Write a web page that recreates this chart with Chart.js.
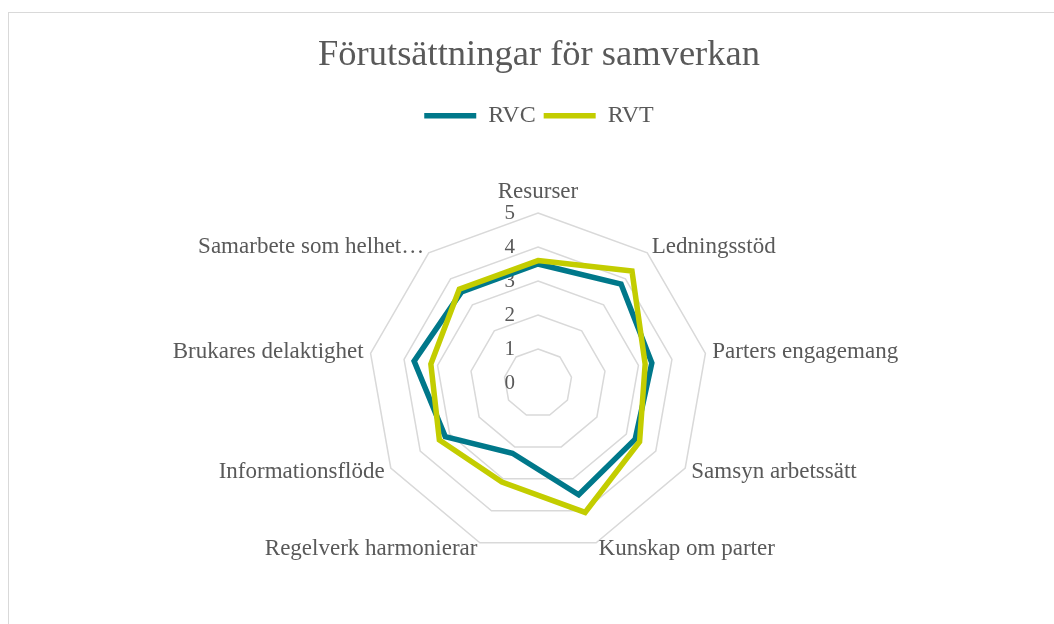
<!DOCTYPE html>
<html>
<head>
<meta charset="utf-8">
<script src="https://cdn.jsdelivr.net/npm/chart.js@4"></script>
<style>
  html, body { margin: 0; padding: 0; background: #fff; overflow: hidden; }
  #wrap { position: relative; width: 1054px; height: 624px; }
  #frame { position: absolute; left: 8px; top: 12px; width: 1100px; height: 700px; border: 1.5px solid #d9d9d9; box-sizing: border-box; }
  canvas { position: absolute; left: 0; top: 0; }
</style>
</head>
<body>
<div id="wrap">
  <div id="frame"></div>
  <canvas id="chart" width="1054" height="624"></canvas>
</div>
<script>
// ── DATA ─────────────────────────────────────────────────────────────────────
const categories = [
  'Resurser', 'Ledningsstöd', 'Parters engagemang', 'Samsyn arbetssätt',
  'Kunskap om parter', 'Regelverk harmonierar', 'Informationsflöde',
  'Brukares delaktighet', 'Samarbete som helhet…'
];
const rvc = [3.5, 3.8, 3.4, 3.3, 3.5, 2.2, 3.15, 3.7, 3.5];
const rvt = [3.6, 4.3, 3.2, 3.45, 4.05, 3.1, 3.35, 3.2, 3.6];
const tickValues = [0, 1, 2, 3, 4, 5];

// ── STYLE ────────────────────────────────────────────────────────────────────
const TEXT   = '#595959';
const GRID   = '#d9d9d9';
const TEAL   = '#00788a';
const LIME   = '#c3cd00';
const FONT   = "'Liberation Serif', 'Times New Roman', serif";
const CX = 538, CY = 383, RADIUS = 170;

// tick numbers left of the vertical axis, point labels centred on the vertex line
const radarText = {
  id: 'radarText',
  beforeDatasetsDraw(chart) {
    const s = chart.scales.r;
    const ctx = chart.ctx;
    ctx.save();
    ctx.fillStyle = TEXT;
    ctx.textBaseline = 'middle';

    ctx.font = '21px ' + FONT;
    ctx.textAlign = 'right';
    tickValues.forEach(v => {
      ctx.fillText(String(v), s.xCenter - 23, s.yCenter - s.getDistanceFromCenterForValue(v));
    });

    ctx.font = '23px ' + FONT;
    categories.forEach((lbl, i) => {
      const p = s.getPointPosition(i, s.drawingArea + 7);
      const deg = Math.round(s.getIndexAngle(i) * 180 / Math.PI) % 360;
      let y = p.y;
      if (deg === 0) { ctx.textAlign = 'center'; y -= 14; }
      else if (deg === 180) { ctx.textAlign = 'center'; y += 14; }
      else ctx.textAlign = deg < 180 ? 'left' : 'right';
      ctx.fillText(lbl, p.x, y);
    });
    ctx.restore();
  }
};

new Chart(document.getElementById('chart').getContext('2d'), {
  type: 'radar',
  data: {
    labels: categories,
    datasets: [
      { label: 'RVC', data: rvc, borderColor: TEAL, backgroundColor: TEAL, borderWidth: 5.5,
        pointRadius: 0, fill: false, borderCapStyle: 'round', order: 1 },
      { label: 'RVT', data: rvt, borderColor: LIME, backgroundColor: LIME, borderWidth: 5.5,
        pointRadius: 0, fill: false, borderCapStyle: 'round', order: 0 }
    ]
  },
  options: {
    responsive: false,
    animation: false,
    layout: { padding: { top: 20, left: 24 } },
    plugins: {
      title: {
        display: true, text: 'Förutsättningar för samverkan', color: TEXT,
        font: { family: FONT, size: 36.5, weight: 'normal' }, padding: { top: 14, bottom: 18 }
      },
      legend: {
        position: 'top',
        labels: {
          usePointStyle: true, pointStyle: 'line', pointStyleWidth: 52,
          color: TEXT, font: { family: FONT, size: 24 }, padding: 8,
          sort: (a, b) => a.datasetIndex - b.datasetIndex
        }
      },
      tooltip: { enabled: false }
    },
    scales: {
      r: {
        min: 0, max: 5,
        ticks: { stepSize: 1, display: false },
        grid: { color: GRID, lineWidth: 1.5 },
        angleLines: { display: false },
        pointLabels: { display: false },
        afterFit(s) { s.xCenter = CX; s.yCenter = CY; s.drawingArea = RADIUS; }
      }
    }
  },
  plugins: [radarText]
});
</script>
</body>
</html>
